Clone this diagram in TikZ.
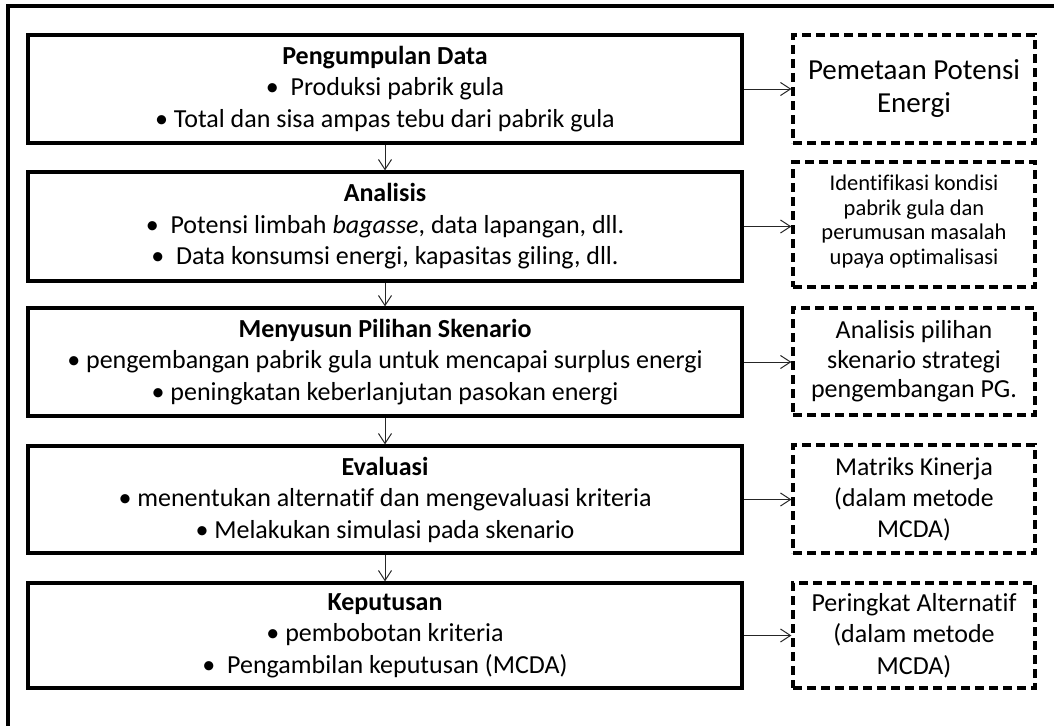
\documentclass[tikz,border=0pt]{standalone}
\usepackage{fontspec}
\setmainfont[Ligatures={NoCommon}]{Carlito}
\usetikzlibrary{arrows.meta}
\begin{document}
\begin{tikzpicture}[x=1pt,y=-1pt,
  mainbox/.style={draw, line width=3.2pt, rectangle, minimum width=714pt, inner sep=0pt, align=center, font=\fontsize{26}{31.5}\selectfont},
  dbox/.style={draw, line width=3.2pt, dash pattern=on 9pt off 5pt, rectangle, minimum width=242pt, inner sep=0pt, align=center},
  arr/.style={line width=1pt, draw=black!85, -{Straight Barb[length=10pt,width=13pt,line width=1pt]}}]
\useasboundingbox (0,0) rectangle (1054,725);
\draw[line width=3.2pt] (1060,6) -- (8,6) -- (8,730);
% main boxes
\node[mainbox, minimum height=108pt] (b1) at (385,89) {\textbf{Pengumpulan Data}\\ •~~Produksi pabrik gula\\ • Total dan sisa ampas tebu dari pabrik gula};
\node[mainbox, minimum height=109pt] (b2) at (385,226.5) {\textbf{Analisis}\\ •~~Potensi limbah \textit{bagasse}, data lapangan, dll.\\ •~~Data konsumsi energi, kapasitas giling, dll.};
\node[mainbox, minimum height=108pt] (b3) at (385,362) {\textbf{Menyusun Pilihan Skenario}\\ • pengembangan pabrik gula untuk mencapai surplus energi\\ • peningkatan keberlanjutan pasokan energi};
\node[mainbox, minimum height=107pt] (b4) at (385,499.5) {\textbf{Evaluasi}\\ • menentukan alternatif dan mengevaluasi kriteria\\ • Melakukan simulasi pada skenario};
\node[mainbox, minimum height=105pt] (b5) at (385,635.5) {\textbf{Keputusan}\\ • pembobotan kriteria\\ •~~Pengambilan keputusan (MCDA)};
% dashed boxes
\node[dbox, minimum height=108pt, font=\fontsize{29}{33}\selectfont] (d1) at (914,89) {Pemetaan Potensi\\Energi};
\node[dbox, minimum height=125pt, font=\fontsize{22.5}{24.5}\selectfont] (d2) at (914,224.5) {Identifikasi kondisi\\pabrik gula dan\\perumusan masalah\\upaya optimalisasi\\[-14.5pt]\mbox{}};
\node[dbox, minimum height=107pt, font=\fontsize{26}{29.5}\selectfont] (d3) at (914,361.5) {Analisis pilihan\\skenario strategi\\pengembangan PG.};
\node[dbox, minimum height=108pt, font=\fontsize{25.7}{31}\selectfont] (d4) at (914,499) {Matriks Kinerja\\(dalam metode\\MCDA)};
\node[dbox, minimum height=105pt, font=\fontsize{26}{31.5}\selectfont] (d5) at (914,635.5) {Peringkat Alternatif\\(dalam metode\\MCDA)};
% arrows
\foreach \i in {1,...,5}{\draw[arr] (b\i.east) -- (b\i.east -| d\i.west);}
\draw[arr] (b1.south) -- (b2.north);
\draw[arr] (b2.south) -- (b3.north);
\draw[arr] (b3.south) -- (b4.north);
\draw[arr] (b4.south) -- (b5.north);
\end{tikzpicture}
\end{document}
